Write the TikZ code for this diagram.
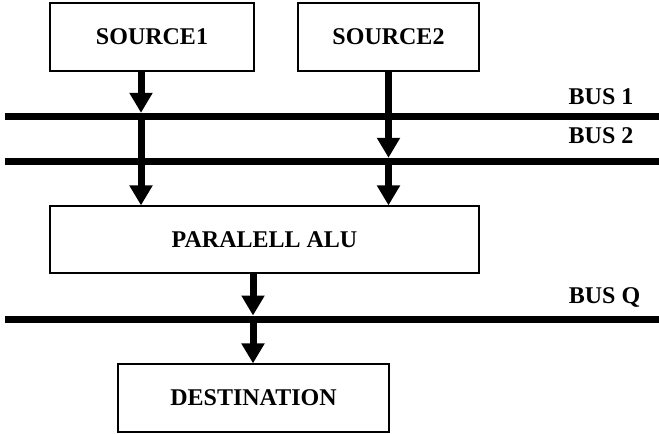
\documentclass[tikz,border=0pt]{standalone}
\usepackage{fontspec}
\setmainfont{Liberation Serif}
\usetikzlibrary{arrows.meta, positioning, calc}

\begin{document}
\begin{tikzpicture}[
    x=0.75pt, y=0.75pt,
    font=\fontsize{18pt}{21pt}\selectfont\bfseries,
    unitbox/.style={draw=black, line width=0.9pt, fill=white, inner sep=0pt, minimum height=51pt},
    busline/.style={line width=5.25pt, line cap=butt},
    bigarrow/.style={line width=5.25pt, -{Triangle[width=16.5pt, length=15pt]}},
    tobus/.style={shorten >=2.6pt},
    buslabel/.style={anchor=base, inner sep=0pt}
]
\useasboundingbox (0,0) rectangle (659,433);

% --- 1. SOURCES ---
\node[unitbox, minimum width=153pt] (src1) at (152, 396) {SOURCE1};
\node[unitbox, minimum width=135.75pt] (src2) at (388.5, 396) {SOURCE2};

% --- 2. ALU AND DESTINATION ---
\node[unitbox, minimum width=321.75pt, minimum height=50.25pt] (alu) at (264.5, 193.5) {PARALELL ALU};
\node[unitbox, minimum width=203.25pt] (dest) at (253.5, 35) {DESTINATION};

% --- 3. BUS ENDS ---
\coordinate (b1s) at (5, 316.7);
\coordinate (b1e) at (659, 316.7);
\coordinate (b2s) at (5, 271.7);
\coordinate (b2e) at (659, 271.7);
\coordinate (bqs) at (5, 114);
\coordinate (bqe) at (659, 114);
\coordinate (c1) at (141, 0);
\coordinate (cq) at (253, 0);

% --- 4. ARROWS ---
\draw[bigarrow, tobus] (src1.south -| c1) -- (b1s -| c1);
\draw[bigarrow] (b1s -| c1) -- (alu.north -| c1);
\draw[bigarrow, tobus] (src2.south) -- (b2s -| src2);
\draw[bigarrow] (b2s -| src2) -- (alu.north -| src2);
\draw[bigarrow, tobus] (alu.south -| cq) -- (bqs -| cq);
\draw[bigarrow] (bqs -| cq) -- (dest.north -| cq);

% --- 5. BUSES ---
\draw[busline] (b1s) -- (b1e);
\draw[busline] (b2s) -- (b2e);
\draw[busline] (bqs) -- (bqe);

\node[buslabel] (lb1) at (601, 329) {BUS 1};
\node[buslabel] (lb2) at (601, 290) {BUS 2};
\node[buslabel] (lbq) at (604.5, 130) {BUS Q};

\end{tikzpicture}
\end{document}
